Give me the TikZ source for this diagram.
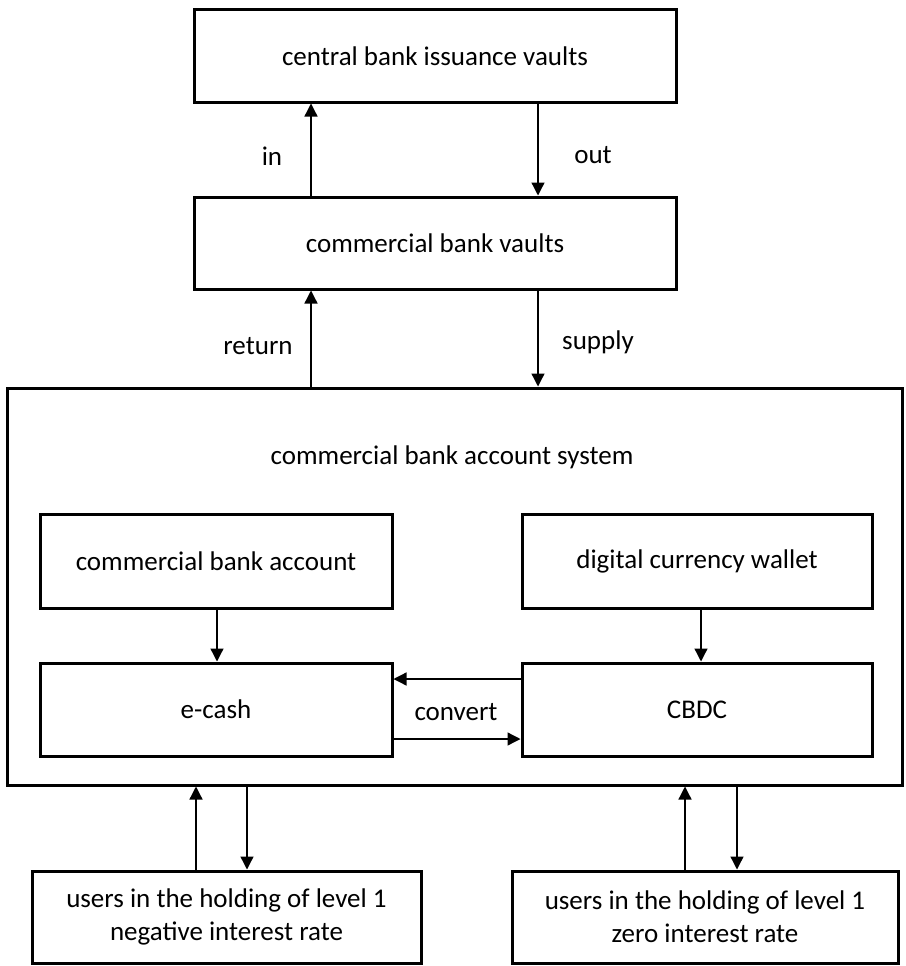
\documentclass[tikz,border=0pt]{standalone}
\usepackage{fontspec}
\setmainfont{Carlito}
\usetikzlibrary{arrows.meta,calc}
\begin{document}
\begin{tikzpicture}[x=1pt,y=-1pt,
  box/.style={draw,line width=3pt,inner sep=0pt,anchor=center,align=center,
    font=\fontsize{27}{33}\selectfont},
  lbl/.style={inner sep=0pt,font=\fontsize{27}{33}\selectfont},
  arr/.style={line width=1.3pt,-{Triangle[length=13pt,width=13pt]}}]
\useasboundingbox (0,0) rectangle (905,966);
\node[box,minimum width=482pt,minimum height=92pt] (top) at (435,56) {central bank issuance vaults};
\node[box,minimum width=482pt,minimum height=92pt] (cbv) at (435,243) {commercial bank vaults};
\node[box,minimum width=895pt,minimum height=397pt] (big) at (454.5,586.5) {};
\node[lbl] (sys) at (452,457) {commercial bank account system};
\node[box,minimum width=352pt,minimum height=94pt] (cba) at (216,561) {commercial bank account};
\node[box,minimum width=350pt,minimum height=94pt] (dcw) at (697,561) {digital currency wallet};
\node[box,minimum width=352pt,minimum height=93pt] (ecash) at (216,709.5) {e-cash};
\node[box,minimum width=350pt,minimum height=93pt] (cbdc) at (697,709.5) {CBDC};
\node[box,minimum width=389pt,minimum height=92pt] (u1) at (226.5,917) {users in the holding of level 1\\negative interest rate};
\node[box,minimum width=386pt,minimum height=92pt] (u2) at (705,917) {users in the holding of level 1\\zero interest rate};
\coordinate (xa) at (311,0);
\coordinate (xb) at (538,0);
\coordinate (xc) at (217,0);
\coordinate (xd) at (701,0);
\coordinate (xe) at (196,0);
\coordinate (xf) at (247,0);
\coordinate (xg) at (685,0);
\coordinate (xh) at (737,0);
\coordinate (ya) at (0,679);
\coordinate (yb) at (0,739);
\draw[arr] (xa |- cbv.north) -- (xa |- top.south);
\draw[arr] (xb |- top.south) -- (xb |- cbv.north);
\draw[arr] (xa |- big.north) -- (xa |- cbv.south);
\draw[arr] (xb |- cbv.south) -- (xb |- big.north);
\draw[arr] (xc |- cba.south) -- (xc |- ecash.north);
\draw[arr] (xd |- dcw.south) -- (xd |- cbdc.north);
\draw[arr] (cbdc.west |- ya) -- (ecash.east |- ya);
\draw[arr] (ecash.east |- yb) -- (cbdc.west |- yb);
\draw[arr] (xe |- u1.north) -- (xe |- big.south);
\draw[arr] (xf |- big.south) -- (xf |- u1.north);
\draw[arr] (xg |- u2.north) -- (xg |- big.south);
\draw[arr] (xh |- big.south) -- (xh |- u2.north);
\node[lbl] (lin) at (272,156) {in};
\node[lbl] (lout) at (593,155) {out};
\node[lbl] (lret) at (258,346) {return};
\node[lbl] (lsup) at (598,342) {supply};
\node[lbl] (lconv) at (456,712) {convert};
\end{tikzpicture}
\end{document}
